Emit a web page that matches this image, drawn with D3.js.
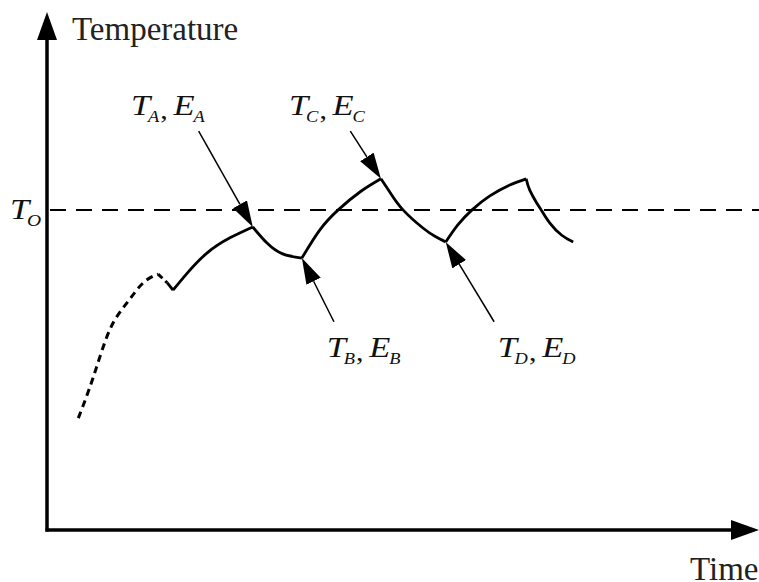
<!DOCTYPE html>
<html>
<head>
<meta charset="utf-8">
<script src="https://cdn.jsdelivr.net/npm/d3@7"></script>
<style>
  html, body { margin: 0; padding: 0; background: #fff; }
  svg { display: block; }
</style>
</head>
<body>
<div id="chart"></div>
<script>
// Time / temperature values (arbitrary units, 0-100 on both axes)

// warm-up part, drawn dashed
const warmUp = [[4.4, 21.6], [6.5, 29.5], [8.8, 38.6], [11.2, 43.8], [13.5, 47.7], [15.6, 49.4]];
// short drop after the warm-up peak (dashed half, then solid half)
const dropDashed = [[15.6, 49.4], [16.9, 47.7]];
const dropSolid = [[16.9, 47.7], [17.7, 46.3]];

// solid cycles: each segment rises (heating) or falls (cooling)
const cycles = [
  [[17.7, 46.3], [19.7, 49.6], [22.5, 53.5], [25.7, 56.4], [28.9, 58.5]],                 // up to A
  [[28.9, 58.5], [30.9, 55.4], [33.1, 53.3], [35.8, 52.5]],                               // down to B
  [[35.8, 52.5], [38.3, 57.9], [40.9, 61.8], [44.0, 65.3], [46.9, 67.8]],                 // up to C
  [[46.9, 67.8], [48.3, 64.9], [50.0, 61.8], [52.8, 58.3], [54.6, 56.6], [56.0, 55.6]],   // down to D
  [[56.0, 55.6], [57.7, 58.9], [59.7, 61.8], [62.2, 64.5], [65.0, 66.6], [67.3, 67.8]],   // up to last peak
  [[67.3, 67.8], [67.8, 65.6], [68.8, 63.1], [69.4, 61.8], [70.6, 59.3], [72.3, 56.9], [73.9, 55.6]]  // down to the end
];

// reference temperature T_O
const refTemp = 61.8;

// state points with their annotation: point, arrow tail, label anchor
const stateNames = ["A", "B", "C", "D"];
const statePoints = [[28.9, 58.5], [35.8, 52.5], [46.9, 67.8], [56.0, 55.6]];
const arrowTails = [[21.3, 77.0], [40.3, 40.2], [42.6, 77.0], [62.8, 40.2]];
const labelAnchors = [[11.8, 80.1], [39.3, 33.4], [34.0, 80.1], [63.3, 33.4]];

const axisTitles = { x: "Time", y: "Temperature" };

const serif = '"Liberation Serif", "Times New Roman", Tinos, serif';

// ---- layout
const width = 759, height = 582;

const svg = d3.select('#chart')
  .append('svg')
    .attr('width', width)
    .attr('height', height);

const x = d3.scaleLinear().domain([0, 100]).range([47, 759]);
const y = d3.scaleLinear().domain([0, 100]).range([530, 12]);

// arrow heads
const defs = svg.append('defs');
function addHead(id, len, half) {
  defs.append('marker')
      .attr('id', id)
      .attr('markerUnits', 'userSpaceOnUse')
      .attr('viewBox', `0 ${-half} ${len} ${half * 2}`)
      .attr('refX', 0)
      .attr('refY', 0)
      .attr('markerWidth', len)
      .attr('markerHeight', half * 2)
      .attr('orient', 'auto')
    .append('path')
      .attr('d', `M0,${-half}L${len},0L0,${half}Z`)
      .attr('fill', '#000');
}
addHead('axisHead', 28, 10);
addHead('pointHead', 26, 8);

// axes
svg.append('line')
    .attr('x1', x(0)).attr('y1', y(0) + 1.5)
    .attr('x2', x(0)).attr('y2', y(100) + 28)
    .attr('stroke', '#000')
    .attr('stroke-width', 3.5)
    .attr('marker-end', 'url(#axisHead)');

svg.append('line')
    .attr('x1', x(0) - 1.5).attr('y1', y(0))
    .attr('x2', x(100) - 28).attr('y2', y(0))
    .attr('stroke', '#000')
    .attr('stroke-width', 3.5)
    .attr('marker-end', 'url(#axisHead)');

svg.append('text')
    .attr('x', x(0) + 25)
    .attr('y', 40)
    .style('font-family', serif)
    .attr('font-size', 33)
    .attr('fill', '#222')
    .text(axisTitles.y);

svg.append('text')
    .attr('x', 690)
    .attr('y', 580)
    .style('font-family', serif)
    .attr('font-size', 33)
    .attr('fill', '#222')
    .text(axisTitles.x);

// reference line T_O
svg.append('line')
    .attr('x1', x(0) + 3).attr('x2', width)
    .attr('y1', y(refTemp)).attr('y2', y(refTemp))
    .attr('stroke', '#000')
    .attr('stroke-width', 2)
    .attr('stroke-dasharray', '16,10');

// label helper: italic letters with subscripts, slightly widened like the sketch
function subLabel(g, parts) {
  const t = g.append('text')
      .style('font-family', serif)
      .attr('font-size', 30)
      .attr('fill', '#111')
      .attr('transform', 'scale(1.15,1)');
  parts.forEach(p => {
    t.append('tspan')
        .style('font-family', serif)
        .attr('font-style', p.italic ? 'italic' : 'normal')
        .attr('font-size', p.size || 30)
        .attr('dy', p.dy || 0)
        .attr('dx', p.dx || 0)
        .text(p.s);
  });
  return t;
}

const toLabel = svg.append('g')
    .attr('transform', `translate(10, ${y(refTemp) + 9})`);
subLabel(toLabel, [
  { s: 'T', italic: true },
  { s: 'O', italic: true, size: 17, dy: 7, dx: -2 }
]);

// curve
const line = d3.line()
    .x(d => x(d[0]))
    .y(d => y(d[1]))
    .curve(d3.curveNatural);

const straight = d3.line()
    .x(d => x(d[0]))
    .y(d => y(d[1]));

svg.append('path')
    .datum(warmUp)
    .attr('d', line)
    .attr('fill', 'none')
    .attr('stroke', '#000')
    .attr('stroke-width', 3)
    .attr('stroke-dasharray', '7,5');

svg.append('path')
    .datum(dropDashed)
    .attr('d', straight)
    .attr('fill', 'none')
    .attr('stroke', '#000')
    .attr('stroke-width', 3)
    .attr('stroke-dasharray', '6,4');

svg.append('path')
    .datum(dropSolid)
    .attr('d', straight)
    .attr('fill', 'none')
    .attr('stroke', '#000')
    .attr('stroke-width', 2.8);

svg.selectAll('path.cycle')
  .data(cycles)
  .enter()
  .append('path')
    .attr('class', 'cycle')
    .attr('d', line)
    .attr('fill', 'none')
    .attr('stroke', '#000')
    .attr('stroke-width', 2.8)
    .attr('stroke-linejoin', 'round');

// annotation arrows, stopping where the head begins
stateNames.forEach((name, i) => {
  const [tx, ty] = [x(arrowTails[i][0]), y(arrowTails[i][1])];
  const [px, py] = [x(statePoints[i][0]), y(statePoints[i][1])];
  const len = Math.hypot(px - tx, py - ty);
  const k = (len - 26) / len;
  svg.append('line')
      .attr('x1', tx).attr('y1', ty)
      .attr('x2', tx + (px - tx) * k).attr('y2', ty + (py - ty) * k)
      .attr('stroke', '#000')
      .attr('stroke-width', 1.5)
      .attr('marker-end', 'url(#pointHead)');

  const g = svg.append('g')
      .attr('transform', `translate(${x(labelAnchors[i][0])}, ${y(labelAnchors[i][1])})`);
  subLabel(g, [
    { s: 'T', italic: true },
    { s: name, italic: true, size: 16, dy: 7, dx: -2 },
    { s: ',', size: 26, dy: -3, dx: 1 },
    { s: 'E', italic: true, dy: -4, dx: 5 },
    { s: name, italic: true, size: 16, dy: 7, dx: -1 }
  ]);
});
</script>
</body>
</html>
